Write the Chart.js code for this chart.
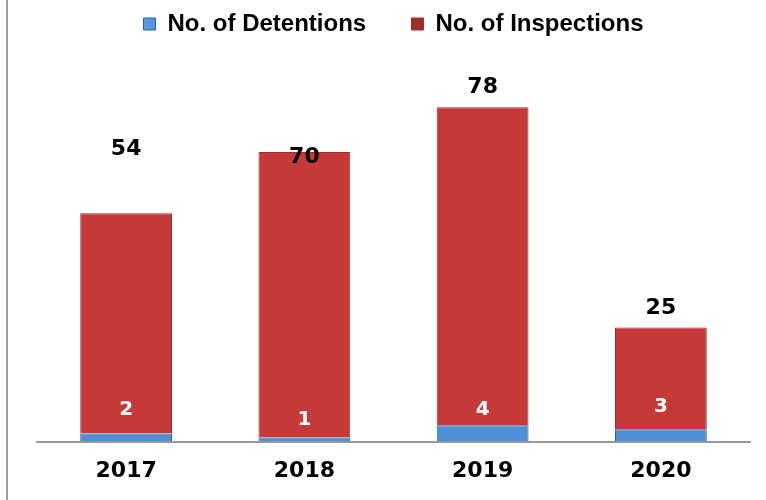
<!DOCTYPE html>
<html>
<head>
<meta charset="utf-8">
<script src="https://cdn.jsdelivr.net/npm/chart.js@4.4.0/dist/chart.umd.min.js"></script>
<style>
    body { margin: 0; background: #fff; }
    #wrap { position: relative; width: 766px; height: 500px; }
    #wrap:before { content: ''; position: absolute; left: 6px; top: 0; bottom: 0; border-left: 2px solid #a0a0a0; }
</style>
</head>
<body>
<div id="wrap"><canvas id="chart" width="766" height="500"></canvas></div>
<script>
const years = ['2017', '2018', '2019', '2020'];
const detentions = [2, 1, 4, 3];
const inspections = [54, 70, 78, 25];

// hand-placed label lifts in the original (pixels above bar top / above baseline)
const inspLift = [64, -5, 20, 19];
const detLift = [32, 22, 32, 35];

function barFill(ctx, dark, mid, light) {
    const bar = ctx.chart.getDatasetMeta(ctx.datasetIndex).data[ctx.dataIndex];
    if (!bar || !bar.width) return mid;
    const g = ctx.chart.ctx.createLinearGradient(bar.x - bar.width / 2, 0, bar.x + bar.width / 2, 0);
    g.addColorStop(0, dark);
    g.addColorStop(0.07, mid);
    g.addColorStop(0.5, light);
    g.addColorStop(0.93, mid);
    g.addColorStop(1, dark);
    return g;
}

const valueLabels = {
    id: 'valueLabels',
    afterDatasetsDraw(chart) {
        const ctx = chart.ctx;
        const base = chart.scales.y.getPixelForValue(0);
        ctx.save();
        ctx.textAlign = 'center';
        ctx.textBaseline = 'middle';
        ctx.font = 'bold 22px "DejaVu Sans"';
        ctx.fillStyle = '#000';
        chart.getDatasetMeta(1).data.forEach((bar, i) => {
            ctx.fillText(inspections[i], bar.x, bar.y - inspLift[i]);
        });
        ctx.font = 'bold 20px "DejaVu Sans"';
        ctx.fillStyle = '#fff';
        chart.getDatasetMeta(0).data.forEach((bar, i) => {
            ctx.fillText(detentions[i], bar.x, base - detLift[i]);
        });
        ctx.restore();
    }
};

new Chart(document.getElementById('chart'), {
    type: 'bar',
    data: {
        labels: years,
        datasets: [{
            // trailing spaces widen the gap between the two legend items
            label: 'No. of Detentions     ',
            data: detentions,
            backgroundColor: ctx => barFill(ctx, '#2f64a8', '#4f8fd8', '#6aa6e6'),
            borderColor: '#2d5d9c',
            borderWidth: 1
        }, {
            label: 'No. of Inspections',
            data: inspections,
            backgroundColor: ctx => barFill(ctx, '#a02c2c', '#c53939', '#d24242'),
            borderColor: '#a03030',
            borderWidth: 1
        }]
    },
    options: {
        responsive: false,
        animation: false,
        layout: { padding: { left: 37, right: 16, top: 0, bottom: 8 } },
        datasets: { bar: { categoryPercentage: 1, barPercentage: 0.515 } },
        scales: {
            x: {
                stacked: true,
                grid: { display: false },
                border: { color: '#999', width: 2 },
                ticks: { color: '#000', padding: 8, font: { family: 'DejaVu Sans', size: 22, weight: 'bold' } }
            },
            y: {
                stacked: true,
                display: false,
                min: 0,
                max: 97
            }
        },
        plugins: {
            legend: {
                position: 'top',
                labels: {
                    color: '#000',
                    boxWidth: 12,
                    boxHeight: 12,
                    padding: 12,
                    font: { family: '"Liberation Sans Narrow", "Liberation Sans"', size: 24, weight: 'bold' }
                }
            },
            tooltip: { enabled: false }
        }
    },
    plugins: [valueLabels]
});
</script>
</body>
</html>
